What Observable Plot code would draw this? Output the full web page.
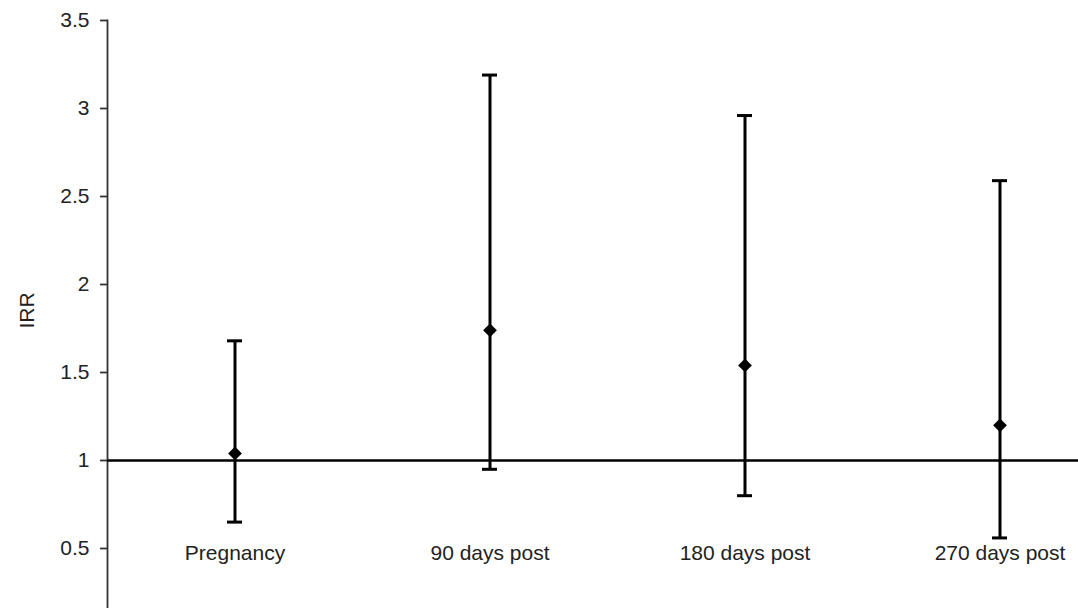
<!DOCTYPE html>
<html><head><meta charset="utf-8">
<script src="https://cdn.jsdelivr.net/npm/d3@7"></script>
<script src="https://cdn.jsdelivr.net/npm/@observablehq/plot@0.6"></script>
<style>html,body{margin:0;padding:0;background:#fff;overflow:hidden} svg{overflow:hidden;display:block}</style>
</head><body><div id="chart"></div>
<script>
const categories = ["Pregnancy", "90 days post", "180 days post", "270 days post"];
const irr = [1.04, 1.74, 1.54, 1.20];
const lower = [0.65, 0.95, 0.80, 0.56];
const upper = [1.68, 3.19, 2.96, 2.59];
const yTicks = [0.5, 1, 1.5, 2, 2.5, 3, 3.5];
const referenceLine = [1];
const labelLevel = 0.5;
const yLabel = "IRR";

const data = categories.map((c, i) => ({category: c, irr: irr[i], lower: lower[i], upper: upper[i]}));

const chart = Plot.plot({
  width: 1078, height: 608,
  marginLeft: 107, marginRight: 0, marginTop: 20, marginBottom: 0,
  style: {fontFamily: "'Liberation Sans', Arial, sans-serif", fontSize: "21px", color: "#222", background: "#fff"},
  x: {type: "band", domain: categories, range: [106, 1128], padding: 0, axis: null},
  y: {domain: [0, 3.5], range: [636, 20]},
  marks: [
    Plot.axisY({ticks: yTicks, tickSize: 7, tickPadding: 11, label: null, tickFormat: d => String(d), stroke: "#333", strokeWidth: 1.8, fill: "#222"}),
    Plot.frame({anchor: "left", stroke: "#333", strokeWidth: 1.8}),
    Plot.ruleY(referenceLine, {stroke: "#000", strokeWidth: 2.6}),
    Plot.ruleX(data, {x: "category", y1: "lower", y2: "upper", stroke: "#000", strokeWidth: 3}),
    Plot.tickY(data, {x: "category", y: "upper", insetLeft: 120, insetRight: 120, stroke: "#000", strokeWidth: 3}),
    Plot.tickY(data, {x: "category", y: "lower", insetLeft: 120, insetRight: 120, stroke: "#000", strokeWidth: 3}),
    Plot.dot(data, {x: "category", y: "irr", symbol: "diamond2", r: 6.2, fill: "#000", stroke: "none"}),
    Plot.text(categories, {x: d => d, y: () => labelLevel, dy: 5, fill: "#222"}),
    Plot.text([yLabel], {frameAnchor: "left", rotate: -90, dx: -80, dy: 14, fill: "#222"})
  ]
});
document.getElementById("chart").appendChild(chart);
</script>
</body></html>
